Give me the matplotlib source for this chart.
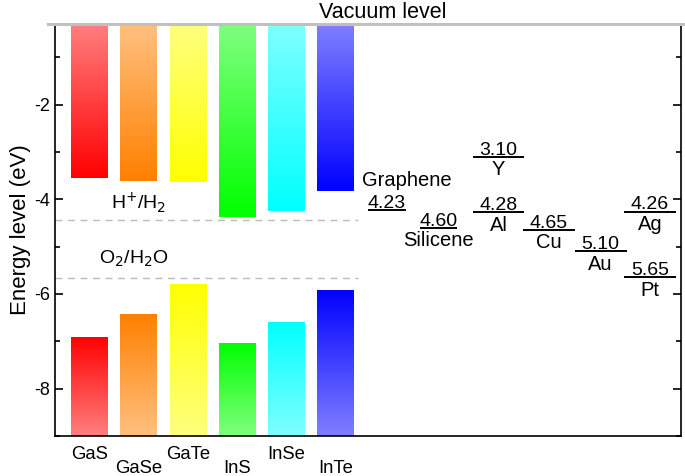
import matplotlib
matplotlib.use('Agg')
import matplotlib.pyplot as plt
import matplotlib.transforms as mtransforms
import numpy as np
from matplotlib.colors import to_rgb

plt.rcParams['font.family'] = ['Liberation Sans', 'DejaVu Sans']
plt.rcParams['axes.unicode_minus'] = False

# semiconductors: conduction band minimum / valence band maximum (eV)
materials = ['GaS', 'GaSe', 'GaTe', 'InS', 'InSe', 'InTe']
cbm = [-3.56, -3.61, -3.63, -4.37, -4.24, -3.83]
vbm = [-6.90, -6.42, -5.78, -7.03, -6.59, -5.91]
bar_colors = ['#ff0000', '#ff8000', '#ffff00', '#00ff00', '#00ffff', '#0000ff']
mat_pos = [1, 2, 3, 4, 5, 6]

# redox potentials
redox_names = ['H$^{+}$/H$_2$', 'O$_2$/H$_2$O']
redox_levels = [-4.44, -5.67]

# contact work functions (eV)
metals = ['Graphene', 'Silicene', 'Y', 'Al', 'Cu', 'Au', 'Pt', 'Ag']
work_fn = [4.23, 4.60, 3.10, 4.28, 4.65, 5.10, 5.65, 4.26]
metal_pos = [7.03, 8.08, 9.3, 9.3, 10.32, 11.37, 12.37, 12.37]
metal_w = [0.77, 0.77, 1.04, 1.04, 1.05, 1.05, 1.05, 1.05]

ylo, yhi = -9.0, -0.3
bw = 0.75

fig = plt.figure(figsize=(6.85, 4.76), dpi=100)
ax = fig.add_axes([0.0803, 0.084, 0.9139, 0.8656])
ax.set_xlim(0.3, 13.0)
ax.set_ylim(ylo, yhi)


def grad_bar(x, y0, y1, color, full_at_top):
    rect = ax.bar(x, y1 - y0, bottom=y0, width=bw, color='none',
                  edgecolor='none')[0]
    c = np.array(to_rgb(color))
    t = np.linspace(0, 1, 256)[:, None]  # 0 = bottom row, 1 = top row
    if full_at_top:
        f = 0.5 + 0.5 * t
    else:
        f = 1.0 - 0.5 * t
    img = f[:, :, None] * c + (1 - f[:, :, None]) * np.ones(3)
    im = ax.imshow(img, extent=[x - bw / 2, x + bw / 2, y0, y1],
                   origin='lower', aspect='auto', zorder=1)
    im.set_clip_path(rect)


for x, cb, vb, col in zip(mat_pos, cbm, vbm, bar_colors):
    grad_bar(x, cb, yhi, col, full_at_top=False)
    grad_bar(x, ylo, vb, col, full_at_top=True)

ax.set_xlim(0.3, 13.0)
ax.set_ylim(ylo, yhi)

# redox lines
for name, lev in zip(redox_names, redox_levels):
    ax.hlines(lev, 0.3, 6.45, colors='#bbbbbb', linestyles=(0, (5, 4)),
              linewidth=1.0, zorder=0)
ax.text(2.0, -4.08, redox_names[0], ha='center', va='center', fontsize=14)
ax.text(1.9, -5.25, redox_names[1], ha='center', va='center', fontsize=14)

# metal work functions
for i, (m, wf, x, w) in enumerate(zip(metals, work_fn, metal_pos, metal_w)):
    ax.hlines(-wf, x - w / 2, x + w / 2, colors='black', linewidth=1.4)
    ax.annotate('%.2f' % wf, (x, -wf), xytext=(0, 1.5),
                textcoords='offset points', ha='center', va='baseline',
                fontsize=14)
    if m == 'Graphene':
        ax.text(6.53, -3.6, m, ha='left', va='center', fontsize=14.5)
    else:
        ax.annotate(m, (x, -wf), xytext=(0, -2.5),
                    textcoords='offset points', ha='center', va='top',
                    fontsize=14.5)

# vacuum level
ax.axhline(yhi, xmin=-0.011, xmax=1.01, color='#c0c0c0', linewidth=2.2,
           clip_on=False, zorder=5)
ax.annotate('Vacuum level', (0.524, 1.0), xycoords='axes fraction',
            xytext=(0, 8.5), textcoords='offset points',
            ha='center', va='center', fontsize=15.5)

ax.spines['top'].set_visible(False)
for s in ['left', 'right', 'bottom']:
    ax.spines[s].set_linewidth(1.2)

ax.set_yticks([-8, -6, -4, -2])
ax.set_yticks([-9, -7, -5, -3, -1], minor=True)
ax.tick_params(axis='y', which='both', direction='in', right=True,
               labelsize=13, width=1.2)
ax.tick_params(axis='y', which='major', length=6)
ax.tick_params(axis='y', which='minor', length=3.5)

ax.set_xticks(mat_pos, materials)
ax.tick_params(axis='x', length=0, labelsize=13.3, pad=7)
shift = mtransforms.ScaledTranslation(0, -0.145, fig.dpi_scale_trans)
for i, lab in enumerate(ax.get_xticklabels()):
    if i % 2 == 1:
        lab.set_transform(lab.get_transform() + shift)

ax.set_ylabel('Energy level (eV)', fontsize=16, labelpad=2)

fig.savefig('out.png', dpi=100)
